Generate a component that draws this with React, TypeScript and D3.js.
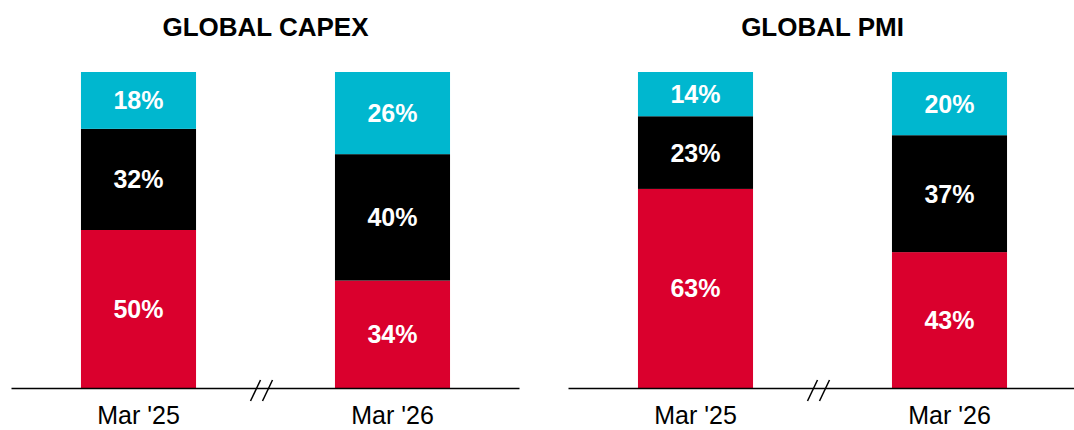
import React from "react";
import * as d3 from "d3";

const categories = ["Mar '25", "Mar '26"];
const panels = ["GLOBAL CAPEX", "GLOBAL PMI"];
// stacked from bottom: red, black, cyan
const capexRed = [50, 34];
const capexBlack = [32, 40];
const capexCyan = [18, 26];
const pmiRed = [63, 43];
const pmiBlack = [23, 37];
const pmiCyan = [14, 20];

const colors = ["#DA002D", "#000000", "#00B7CF"];
const panelData = [
  [capexRed, capexBlack, capexCyan],
  [pmiRed, pmiBlack, pmiCyan],
];

const W = 1074;
const H = 430;
const font = "'Liberation Sans', Arial, Helvetica, sans-serif";

export default function App() {
  const y = d3.scaleLinear().domain([0, 100]).range([388, 72]);
  const offsets = [0, 557];
  return (
    <svg
      width={W}
      height={H}
      style={{ position: "absolute", left: 0, top: 0 }}
      viewBox={`0 0 ${W} ${H}`}
    >
      <rect width={W} height={H} fill="#fff" />
      {panels.map((title, pi) => {
        const off = offsets[pi];
        const x = d3
          .scaleBand<string>()
          .domain(categories)
          .range([11.5 + off, 519.5 + off])
          .paddingInner(0.547)
          .paddingOuter(0.2735);
        const series = panelData[pi];
        const stack = d3
          .stack<number>()
          .keys(series.map((_, i) => String(i)))
          .value((d, key) => series[+key][d]);
        const stacked = stack(categories.map((_, i) => i));
        const cx = (x.range()[0] + x.range()[1]) / 2;
        const bx = cx - 4;
        return (
          <g key={title}>
            <text
              x={cx}
              y={36}
              textAnchor="middle"
              fontFamily={font}
              fontWeight="bold"
              fontSize={26}
              fill="#000"
            >
              {title}
            </text>
            {stacked.map((layer, li) => (
              <g key={li}>
                {layer.map((d, ci) => {
                  const x0 = x(categories[ci])!;
                  const y0 = y(d[1]);
                  const y1 = y(d[0]);
                  return (
                    <g key={ci}>
                      <rect
                        x={x0}
                        y={y0}
                        width={x.bandwidth()}
                        height={y1 - y0}
                        fill={colors[li]}
                      />
                      <text
                        x={x0 + x.bandwidth() / 2}
                        y={(y0 + y1) / 2}
                        dy="0.36em"
                        textAnchor="middle"
                        fontFamily={font}
                        fontWeight="bold"
                        fontSize={25}
                        fill="#fff"
                      >
                        {series[li][ci]}%
                      </text>
                    </g>
                  );
                })}
              </g>
            ))}
            <line
              x1={x.range()[0]}
              x2={x.range()[1]}
              y1={388.5}
              y2={388.5}
              stroke="#000"
              strokeWidth={1.6}
            />
            <line x1={bx - 11} y1={401} x2={bx - 1} y2={380} stroke="#000" strokeWidth={1.5} />
            <line x1={bx + 1} y1={401} x2={bx + 11} y2={380} stroke="#000" strokeWidth={1.5} />
            {categories.map((c) => (
              <text
                key={c}
                x={x(c)! + x.bandwidth() / 2}
                y={424}
                textAnchor="middle"
                fontFamily={font}
                fontSize={25}
                fill="#000"
              >
                {c}
              </text>
            ))}
          </g>
        );
      })}
    </svg>
  );
}
